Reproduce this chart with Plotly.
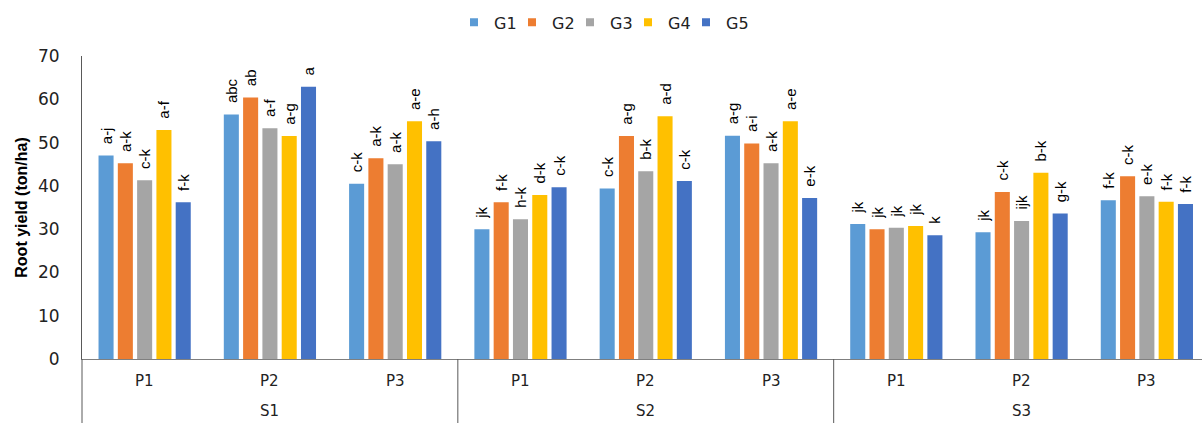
import plotly.graph_objects as go

systems = ["S1", "S2", "S3"]
plants = ["P1", "P2", "P3"]
genotypes = ["G1", "G2", "G3", "G4", "G5"]
colors = ["#5B9BD5", "#ED7D31", "#A5A5A5", "#FFC000", "#4472C4"]

# values per genotype, ordered S1P1,S1P2,S1P3,S2P1,...,S3P3
G1 = [47.0, 56.5, 40.5, 30.0, 39.4, 51.6, 31.2, 29.3, 36.7]
G2 = [45.2, 60.4, 46.4, 36.2, 51.5, 49.8, 30.0, 38.6, 42.2]
G3 = [41.3, 53.3, 45.0, 32.3, 43.4, 45.2, 30.3, 31.9, 37.6]
G4 = [52.9, 51.5, 54.9, 37.9, 56.1, 54.9, 30.7, 43.0, 36.3]
G5 = [36.2, 62.9, 50.3, 39.7, 41.1, 37.2, 28.6, 33.6, 35.8]

L1 = ["a-j", "abc", "c-k", "jk", "c-k", "a-g", "jk", "jk", "f-k"]
L2 = ["a-k", "ab", "a-k", "f-k", "a-g", "a-i", "jk", "c-k", "c-k"]
L3 = ["c-k", "a-f", "a-k", "h-k", "b-k", "a-k", "jk", "ijk", "e-k"]
L4 = ["a-f", "a-g", "a-e", "d-k", "a-d", "a-e", "jk", "b-k", "f-k"]
L5 = ["f-k", "a", "a-h", "c-k", "c-k", "e-k", "k", "g-k", "f-k"]

values = [G1, G2, G3, G4, G5]
labels = [L1, L2, L3, L4, L5]

xs = [[s for s in systems for _ in plants], [p for _ in systems for p in plants]]
x_max = 8.44
span = x_max + 0.5

fig = go.Figure()
for name, col, v, lab in zip(genotypes, colors, values, labels):
    fig.add_trace(go.Bar(
        x=xs, y=v, name=name, marker=dict(color=col, line=dict(width=0)),
        text=["\u00a0\u00a0" + t for t in lab], textposition="outside", textangle=-90,
        constraintext="none", cliponaxis=False, showlegend=False,
        textfont=dict(family="Liberation Sans, Arial", size=15, color="#000000"),
    ))
    fig.add_trace(go.Scatter(
        x=[None], y=[None], mode="markers", name=name,
        marker=dict(symbol="square", size=8, color=col),
    ))
# spacer entry so the last legend label is not clipped
fig.add_trace(go.Scatter(x=[None], y=[None], mode="markers", name=" ",
                         marker=dict(symbol="square", size=8, color="rgba(0,0,0,0)")))

# category labels and dividers
annotations = []
for i, s in enumerate(systems):
    for j, p in enumerate(plants):
        k = i * len(plants) + j
        annotations.append(dict(x=(k + 0.5) / span, y=-0.074, xref="paper", yref="paper",
                                text=p, showarrow=False, xanchor="center", yanchor="middle",
                                font=dict(family="DejaVu Sans", size=15, color="#222222")))
    annotations.append(dict(x=(i * len(plants) + 1.5) / span, y=-0.170, xref="paper", yref="paper",
                            text=s, showarrow=False, xanchor="center", yanchor="middle",
                            font=dict(family="DejaVu Sans", size=15, color="#222222")))
shapes = []
for i in range(len(systems)):
    xb = (i * len(plants)) / span
    shapes.append(dict(type="line", xref="paper", yref="paper", x0=xb, x1=xb, y0=0, y1=-0.215,
                       line=dict(color="#595959", width=1)))

fig.update_layout(
    width=1202, height=423,
    margin=dict(l=82, r=0, t=56, b=64),
    paper_bgcolor="white", plot_bgcolor="white",
    barmode="group", bargap=0.23, bargroupgap=0.22,
    annotations=annotations, shapes=shapes,
    legend=dict(orientation="h", x=0.4875, xanchor="center", y=1.111, yanchor="middle",
                font=dict(family="DejaVu Sans", size=16, color="#222222"),
                itemwidth=30, entrywidth=13, traceorder="normal"),
    xaxis=dict(type="multicategory", range=[-0.5, x_max], showline=True,
               linecolor="#7f7f7f", linewidth=1, showgrid=False, ticks="",
               showticklabels=False, showdividers=False),
    yaxis=dict(range=[0, 70], dtick=10, showgrid=False, showline=True,
               linecolor="#595959", linewidth=1, ticks="", zeroline=False,
               ticklabelstandoff=18,
               tickfont=dict(family="DejaVu Sans", size=17, color="#222222"),
               title=dict(text="<b>Root yield (ton/ha)</b>", standoff=6,
                          font=dict(family="Liberation Sans, Arial", size=16, color="#000000"))),
)

fig.write_html("out.html")
